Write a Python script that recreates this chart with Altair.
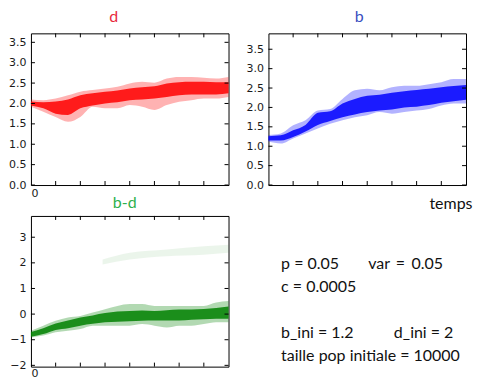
import altair as alt
import pandas as pd

# time grid (arbitrary units, axis 0..8)
T = [0, 0.5, 1, 1.5, 2, 2.5, 3, 3.5, 4, 4.5, 5, 5.5, 6, 6.5, 7, 7.5, 8]

# d : outer envelope and dense core of the cloud
D_OUT_LO = [1.92, 1.80, 1.67, 1.55, 1.67, 1.92, 1.88, 1.88, 1.96, 1.92, 1.84, 1.96, 2.04, 2.08, 2.12, 2.12, 2.16]
D_OUT_HI = [2.10, 2.08, 2.12, 2.20, 2.29, 2.33, 2.37, 2.41, 2.49, 2.53, 2.51, 2.61, 2.65, 2.65, 2.63, 2.61, 2.65]
D_CORE_LO = [1.95, 1.88, 1.75, 1.72, 1.88, 1.95, 2.00, 2.03, 2.08, 2.10, 2.12, 2.16, 2.20, 2.22, 2.22, 2.22, 2.25]
D_CORE_HI = [2.05, 2.03, 2.05, 2.10, 2.20, 2.25, 2.29, 2.32, 2.37, 2.40, 2.42, 2.49, 2.52, 2.53, 2.53, 2.52, 2.52]

# b
B_OUT_LO = [1.12, 1.07, 1.20, 1.33, 1.46, 1.58, 1.67, 1.75, 1.80, 1.88, 1.84, 1.88, 1.92, 1.96, 2.05, 2.10, 2.10]
B_OUT_HI = [1.29, 1.33, 1.54, 1.67, 1.92, 1.96, 2.22, 2.44, 2.48, 2.44, 2.52, 2.56, 2.56, 2.60, 2.65, 2.73, 2.73]
B_CORE_LO = [1.15, 1.15, 1.24, 1.38, 1.55, 1.65, 1.75, 1.82, 1.88, 1.92, 1.95, 2.00, 2.02, 2.06, 2.12, 2.16, 2.20]
B_CORE_HI = [1.26, 1.28, 1.41, 1.55, 1.86, 1.90, 2.10, 2.22, 2.30, 2.33, 2.38, 2.42, 2.45, 2.48, 2.52, 2.55, 2.58]

# b-d
BD_OUT_LO = [-0.91, -0.84, -0.71, -0.65, -0.58, -0.45, -0.45, -0.45, -0.45, -0.39, -0.45, -0.52, -0.45, -0.45, -0.39, -0.32, -0.32]
BD_OUT_HI = [-0.65, -0.45, -0.26, -0.13, -0.07, 0.06, 0.19, 0.32, 0.39, 0.39, 0.32, 0.32, 0.32, 0.32, 0.32, 0.45, 0.51]
BD_CORE_LO = [-0.88, -0.78, -0.62, -0.55, -0.45, -0.38, -0.32, -0.30, -0.28, -0.26, -0.25, -0.25, -0.25, -0.22, -0.20, -0.18, -0.18]
BD_CORE_HI = [-0.70, -0.55, -0.37, -0.25, -0.13, -0.05, 0.04, 0.10, 0.12, 0.14, 0.12, 0.15, 0.18, 0.18, 0.20, 0.24, 0.30]
# faint upper branch of b-d
BD_UP_T = [2.9, 4, 5.5, 7, 8]
BD_UP_LO = [1.94, 2.13, 2.26, 2.32, 2.39]
BD_UP_HI = [2.13, 2.39, 2.52, 2.65, 2.71]

Y_TICKS_DB = [0.0, 0.5, 1.0, 1.5, 2.0, 2.5, 3.0, 3.5]
Y_TICKS_BD = [-2, -1, 0, 1, 2, 3]
X_TICKS = [1, 2, 3, 4, 5, 6, 7]
X_LABELS = [0]

NOTE_LINES = ["p = 0.05", "var", "=", "0.05", "c = 0.0005", "b_ini = 1.2", "d_ini = 2",
              "taille pop initiale = 10000"]

W = 198
LABEL_FONT = "DejaVu Sans"
TEXT_FONT = "Lato"


def band(lo, hi, t=T):
    return pd.DataFrame({"t": t, "lo": lo, "hi": hi})


def panel(layers, color, yticks, ydom, yfmt, title, tcolor, tdx, toff, xaxis, xtitle, h):
    xs = alt.Scale(domain=[0, 8], nice=False, zero=False)
    ys = alt.Scale(domain=ydom, nice=False, zero=False)
    yaxis = alt.Axis(values=yticks, format=yfmt, ticks=False, domain=False, grid=False,
                     labelPadding=5, labelFont=LABEL_FONT, labelFontSize=11, labelOverlap=False,
                     labelColor="#1a1a1a", title=None)
    charts = []
    for df, op in layers:
        charts.append(alt.Chart(df).mark_area(color=color, opacity=op, interpolate="monotone").encode(
            x=alt.X("t:Q", scale=xs, axis=xaxis, title=xtitle),
            y=alt.Y("lo:Q", scale=ys, axis=yaxis, title=None), y2="hi:Q"))
    ydf = pd.DataFrame({"v": yticks})
    xdf = pd.DataFrame({"v": X_TICKS})
    tick = dict(color="black", strokeWidth=1)
    ych = alt.Y("v:Q", scale=ys, axis=yaxis, title=None)
    xch = alt.X("v:Q", scale=xs, axis=xaxis, title=xtitle)
    charts += [
        alt.Chart(ydf).mark_rule(**tick).encode(y=ych, x=alt.value(0), x2=alt.value(4)),
        alt.Chart(ydf).mark_rule(**tick).encode(y=ych, x=alt.value(W - 4), x2=alt.value(W)),
        alt.Chart(xdf).mark_rule(**tick).encode(x=xch, y=alt.value(h - 4), y2=alt.value(h)),
        alt.Chart(xdf).mark_rule(**tick).encode(x=xch, y=alt.value(0), y2=alt.value(4)),
    ]
    return alt.layer(*charts).properties(
        width=W, height=h,
        title=alt.TitleParams(title, color=tcolor, font=TEXT_FONT, fontSize=16, fontWeight="normal",
                              dx=tdx, offset=toff),
    )


def x_zero(pad):
    return alt.Axis(values=X_LABELS, format="d", ticks=False, domain=False, grid=False, labelPadding=pad,
                    labelFont=LABEL_FONT, labelFontSize=11, labelColor="#1a1a1a")


x_temps = alt.Axis(values=X_LABELS, labels=False, ticks=False, domain=False, grid=False,
                   titleFont=TEXT_FONT, titleFontSize=16, titleFontWeight=400, titleColor="#111111",
                   titleAnchor="end", titleAlign="right", titleBaseline="middle", titleX=204, titleY=19)

d_chart = panel([(band(D_OUT_LO, D_OUT_HI), 0.3), (band(D_CORE_LO, D_CORE_HI), 0.85)],
                "#ff0000", Y_TICKS_DB, [0, 3.72], ".1f", "d", "#e8283c", -16, 8, x_zero(3), None, 152)
b_chart = panel([(band(B_OUT_LO, B_OUT_HI), 0.3), (band(B_CORE_LO, B_CORE_HI), 0.85)],
                "#0000ff", Y_TICKS_DB, [0, 3.91], ".1f", "b", "#3a4fc0", -8, 8, x_temps, "temps", 152)
bd_chart = panel([(band(BD_UP_LO, BD_UP_HI, BD_UP_T), 0.08), (band(BD_OUT_LO, BD_OUT_HI), 0.3),
                  (band(BD_CORE_LO, BD_CORE_HI), 0.85)],
                 "#008000", Y_TICKS_BD, [-2.05, 3.83], "d", "b-d", "#2db04b", -5, 4, x_zero(1), None, 151)

# annotation panel
note_pos = [(12.7, 48), (100, 48), (127.7, 48), (143.4, 48), (12.7, 71), (12.7, 117), (125.7, 117),
            (12.7, 140)]
dummy = pd.DataFrame({"k": [0]})
notes = []
for txt, (px, py) in zip(NOTE_LINES, note_pos):
    notes.append(alt.Chart(dummy).mark_text(text=txt, align="left", baseline="middle", font=TEXT_FONT,
                                            fontSize=16, color="#111111")
                 .encode(x=alt.value(px), y=alt.value(py)))
note_chart = alt.layer(*notes).properties(width=W, height=151, view=alt.ViewBackground(strokeOpacity=0))

chart = alt.concat(d_chart, b_chart, bd_chart, note_chart, columns=2,
                   spacing={"row": 31, "column": 40},
                   bounds="flush").properties(
    padding=0,
).configure_view(stroke="black", strokeWidth=1).configure_axis(grid=False, labelOverlap=False,
                                                               titleFontWeight=400)

chart.save("out.html", embed_options={"renderer": "svg", "actions": False})
